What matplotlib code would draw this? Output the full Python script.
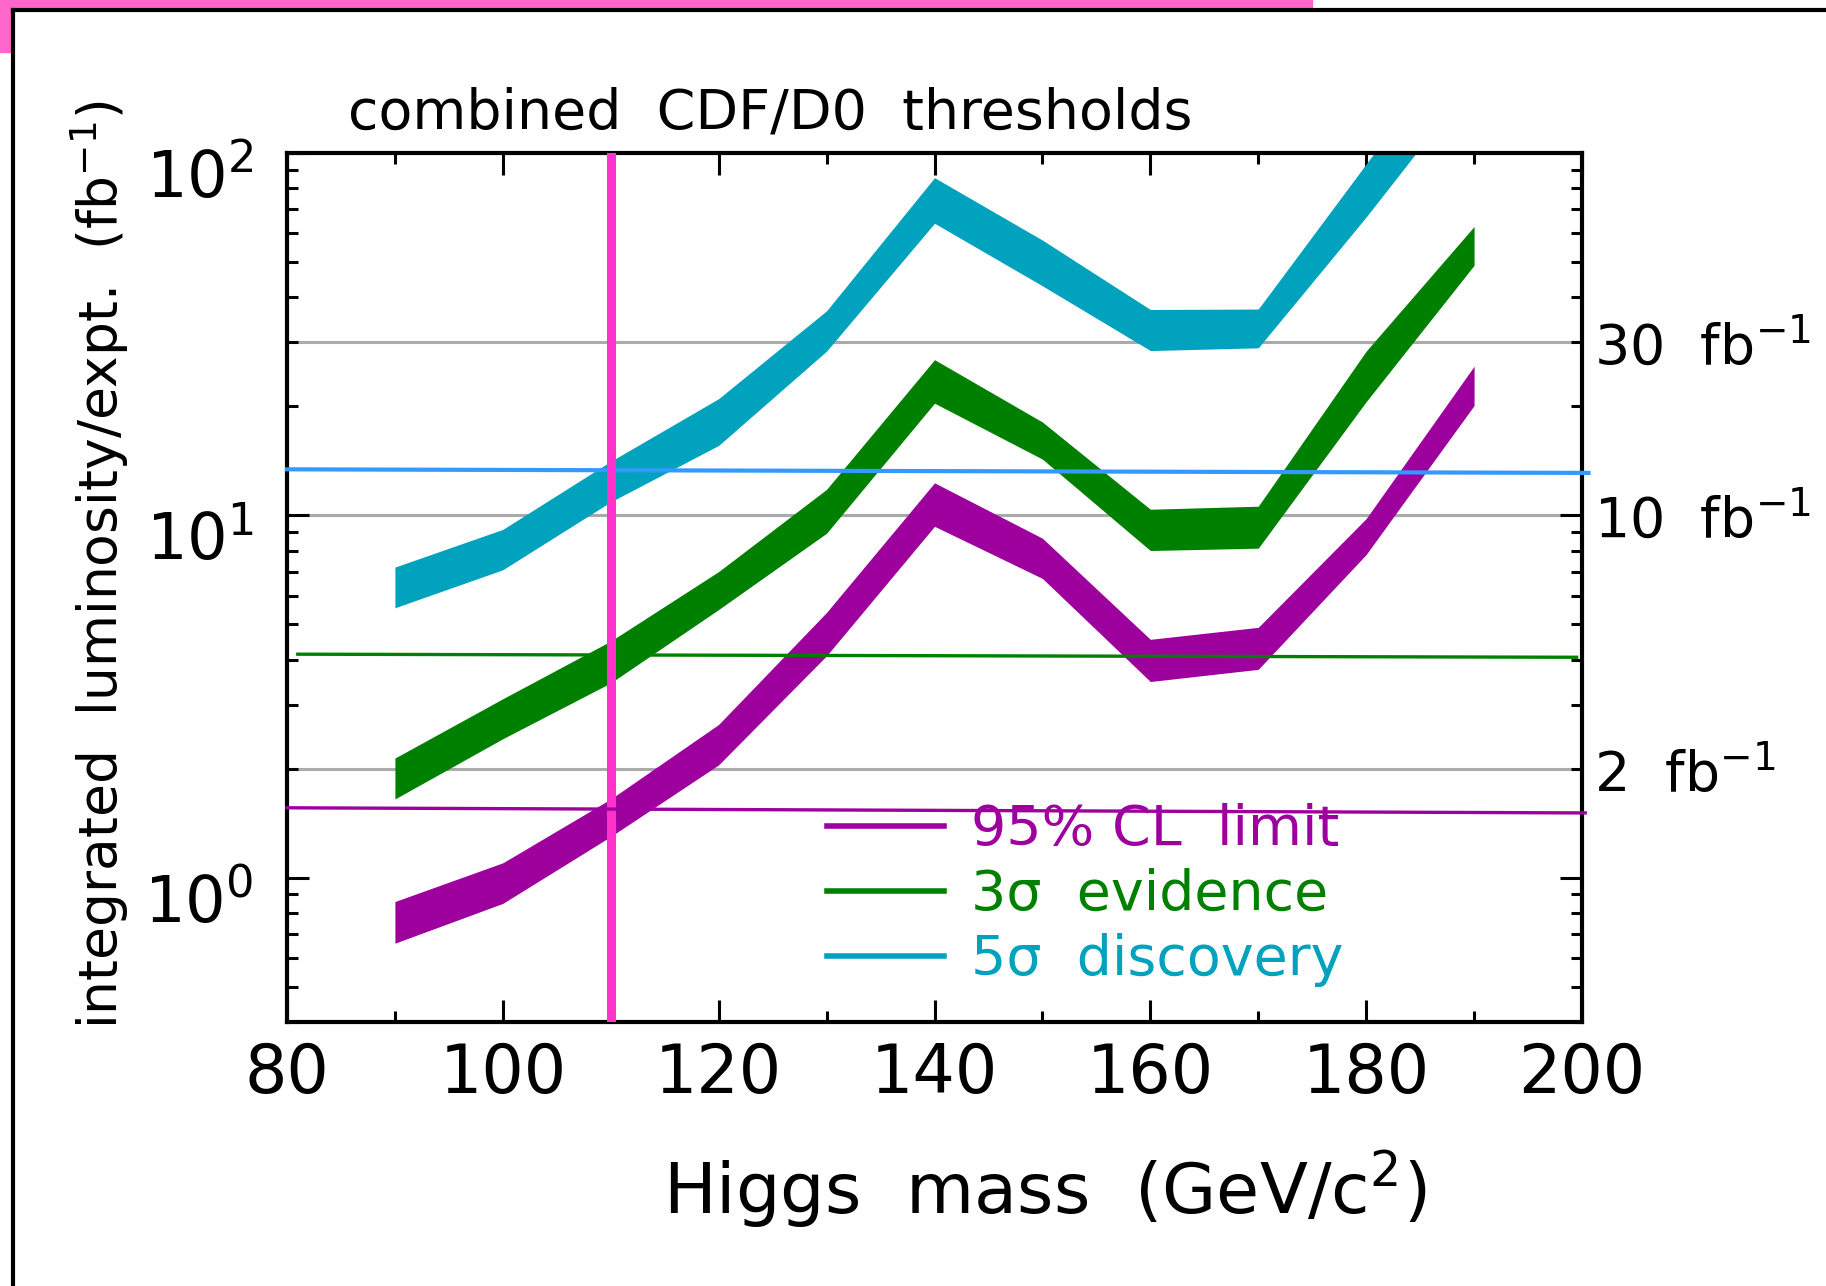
#!/usr/bin/env python3
"""CDF/D0 combined Higgs luminosity thresholds"""
import matplotlib
matplotlib.use("Agg")
import matplotlib.pyplot as plt
import matplotlib.transforms as mtransforms
from matplotlib.patches import Rectangle
from matplotlib.lines import Line2D
from matplotlib.ticker import FixedLocator, LogLocator, NullFormatter

plt.rcParams["font.family"] = ["DejaVu Sans"]

# ===== data =====
mass = [90, 100, 110, 120, 130, 140, 150, 160, 170, 180, 190]

# 95% CL limit band
cl95_lo = [0.66, 0.85, 1.30, 2.05, 4.1, 9.33, 6.7, 3.48, 3.76, 7.8, 20.1]
cl95_hi = [0.86, 1.10, 1.65, 2.65, 5.4, 12.3, 8.65, 4.55, 4.91, 9.8, 25.8]
# 3 sigma evidence band
sig3_lo = [1.65, 2.42, 3.45, 5.5, 8.93, 20.4, 14.3, 8.0, 8.12, 20.6, 49.0]
sig3_hi = [2.14, 3.12, 4.50, 7.0, 11.8, 26.9, 18.1, 10.4, 10.6, 28.4, 62.7]
# 5 sigma discovery band
sig5_lo = [5.56, 7.08, 10.9, 15.6, 28.4, 64.0, 43.0, 28.5, 29.0, 66.6, 160.0]
sig5_hi = [7.2, 9.15, 14.1, 21.0, 36.7, 85.5, 57.5, 37.0, 37.1, 93.3, 233.0]

# reference luminosities (grey lines, right-hand labels)
lumi_refs = [30, 10, 2]

# horizontal threshold lines (start, end)
line5_x, line5_y = [80, 200.6], [13.4, 13.1]
line3_x, line3_y = [81, 199.5], [4.14, 4.06]
line95_x, line95_y = [80, 200.3], [1.56, 1.51]

mass_cut = 110

C95 = "#9E009E"
C3 = "#008000"
C5 = "#00A2BD"

fig = plt.figure(figsize=(18.26, 12.86), dpi=100)
ax = fig.add_axes([287 / 1826, 1 - 1022 / 1286, 1295 / 1826, 869 / 1286])

# background frame + pink bars
fig.patches.append(Rectangle((0, 1 - 8 / 1286), 1312 / 1826, 8 / 1286,
                             transform=fig.transFigure, color="#FF66CC", zorder=0))
fig.patches.append(Rectangle((0, 1 - 52 / 1286), 12 / 1826, 52 / 1286,
                             transform=fig.transFigure, color="#FF66CC", zorder=0))
fig.lines.append(Line2D([13 / 1826, 1], [1 - 10 / 1286] * 2, transform=fig.transFigure,
                        color="black", lw=3))
fig.lines.append(Line2D([13 / 1826] * 2, [0, 1 - 10 / 1286], transform=fig.transFigure,
                        color="black", lw=3))

ax.set_yscale("log")
ax.set_xlim(80, 200)
ax.set_ylim(0.4, 100)

for v in lumi_refs:
    ax.axhline(v, color="#AAAAAA", lw=2.2, zorder=1)

ax.fill_between(mass, sig5_lo, sig5_hi, color=C5, lw=0, zorder=2)
ax.fill_between(mass, sig3_lo, sig3_hi, color=C3, lw=0, zorder=2)
ax.fill_between(mass, cl95_lo, cl95_hi, color=C95, lw=0, zorder=2)

ax.plot(line5_x, line5_y, color="#3399FF", lw=3, zorder=3, clip_on=False)
ax.plot(line3_x, line3_y, color=C3, lw=2.4, zorder=3, clip_on=False)
ax.plot(line95_x, line95_y, color=C95, lw=2.4, zorder=6, clip_on=False)

ax.axvline(mass_cut, color="#FF33CC", lw=6.5, zorder=4)

# legend
handles = [Line2D([], [], color=c, lw=4) for c in (C95, C3, C5)]
leg = ax.legend(handles, ["95% CL  limit", "3σ  evidence", "5σ  discovery"],
                loc="upper left", bbox_to_anchor=(0.417, 0.252), frameon=False,
                fontsize=40, labelcolor=[C95, C3, C5], handlelength=2.1,
                handletextpad=0.5, labelspacing=0.2, borderpad=0, borderaxespad=0)
leg.set_zorder(5)

# ticks
ax.xaxis.set_major_locator(FixedLocator([80, 100, 120, 140, 160, 180, 200]))
ax.xaxis.set_minor_locator(FixedLocator([90, 110, 130, 150, 170, 190]))
ax.yaxis.set_major_locator(FixedLocator([1, 10, 100]))
ax.yaxis.set_minor_locator(LogLocator(base=10, subs=range(2, 10)))
ax.yaxis.set_minor_formatter(NullFormatter())
ax.set_yticklabels(["$10^{0}$", "$10^{1}$", "$10^{2}$"])
ax.tick_params(which="both", direction="in", top=True, right=True, width=2.2)
ax.tick_params(which="major", length=16)
ax.tick_params(which="minor", length=8)
ax.tick_params(axis="x", labelsize=48, pad=14)
ax.tick_params(axis="y", labelsize=46, pad=24)
for s in ax.spines.values():
    s.set_linewidth(3)

# y tick labels sit a little below their ticks in the original
shift = mtransforms.ScaledTranslation(0, -0.2, fig.dpi_scale_trans)
for lab in ax.get_yticklabels():
    lab.set_transform(lab.get_transform() + shift)

# right-hand luminosity labels
off = mtransforms.offset_copy(ax.get_yaxis_transform(), fig=fig, x=0, y=-6, units="dots")
for v in lumi_refs:
    ax.text(1.009, v, f"{v}  fb$^{{-1}}$", transform=off, fontsize=40,
            ha="left", va="center", clip_on=False)

ax.text(0.373, 1.046, "combined  CDF/D0  thresholds", transform=ax.transAxes,
        fontsize=40, ha="center", va="center")
ax.text(0.585, -0.193, "Higgs  mass  (GeV/c$^{2}$)", transform=ax.transAxes,
        fontsize=50.5, ha="center", va="center")
ax.text(-0.145, 0.526, "integrated  luminosity/expt.  (fb$^{-1}$)", transform=ax.transAxes,
        fontsize=38.5, ha="center", va="center", rotation=90)

fig.savefig("out.png", dpi=100)
plt.close(fig)
